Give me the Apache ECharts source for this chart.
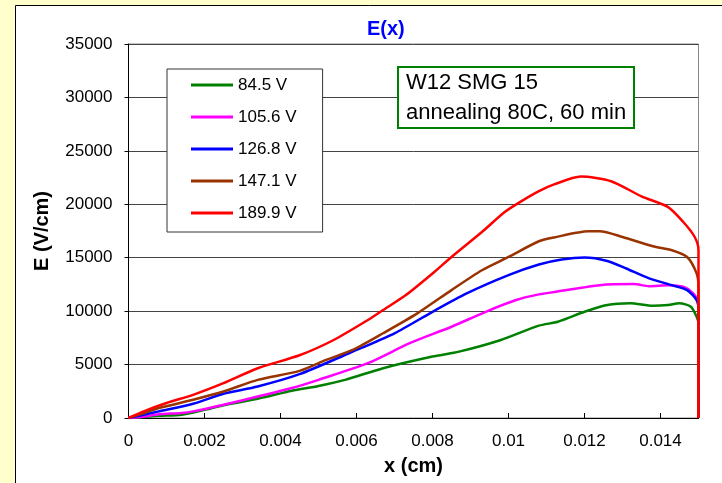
<!DOCTYPE html>
<html>
<head>
<meta charset="utf-8">
<script src="https://cdn.jsdelivr.net/npm/echarts@6/dist/echarts.min.js"></script>
<style>
  html, body { margin: 0; padding: 0; background: #FFFFCC; }
  #chart { width: 722px; height: 483px; }
</style>
</head>
<body>
<div id="chart"></div>
<script>
// E(x) profiles, x in cm, E in V/cm
var names = ['84.5 V', '105.6 V', '126.8 V', '147.1 V', '189.9 V'];
var colors = ['#008000', '#FF00FF', '#0000FF', '#993300', '#FF0000'];

var e845 = [[0,0],[0.0004,100],[0.0008,210],[0.0014,310],[0.0020,770],[0.0025,1190],[0.0034,1800],
    [0.0043,2550],[0.0050,3000],[0.0057,3570],[0.0067,4660],[0.0080,5750],[0.0087,6210],[0.0098,7300],
    [0.0108,8640],[0.0113,9010],[0.0120,9940],[0.0126,10570],[0.0132,10730],[0.0138,10500],[0.0142,10570],
    [0.0145,10730],[0.0148,10410],[0.01495,9480],[0.0150,8860],[0.0150,0]];
var e1056 = [[0,0],[0.0004,120],[0.0008,340],[0.0014,470],[0.0017,620],[0.0025,1240],[0.0034,2010],
    [0.0043,2800],[0.0050,3570],[0.0063,5130],[0.0074,7000],[0.0085,8540],[0.0094,9940],[0.0102,11040],
    [0.0108,11570],[0.0114,11900],[0.0124,12430],[0.0133,12530],[0.0137,12340],[0.0142,12430],
    [0.0146,12280],[0.01486,11660],[0.0150,10730],[0.0150,0]];
var e1268 = [[0,0],[0.0004,300],[0.0008,620],[0.0017,1330],[0.0025,2270],[0.0034,2950],[0.0045,4100],
    [0.0058,6060],[0.0070,7930],[0.0080,9940],[0.0089,11660],[0.0100,13370],[0.0108,14360],[0.0114,14830],
    [0.0120,15020],[0.0126,14700],[0.0131,13990],[0.0137,13060],[0.0143,12430],[0.0147,11970],
    [0.01495,11040],[0.0150,10100],[0.0150,0]];
var e1471 = [[0,0],[0.0004,450],[0.0008,930],[0.0017,1710],[0.0025,2480],[0.0034,3570],[0.0045,4410],
    [0.0052,5440],[0.0059,6370],[0.0067,7930],[0.0076,9790],[0.0085,11970],[0.0093,13830],[0.0100,15070],
    [0.0108,16540],[0.0112,16900],[0.0121,17470],[0.0124,17470],[0.0130,16940],[0.0138,16070],
    [0.0143,15700],[0.0147,15070],[0.01495,13530],[0.0150,12280],[0.0150,0]];
var e1899 = [[0,0],[0.0004,620],[0.0010,1400],[0.0017,2170],[0.0025,3260],[0.0034,4660],[0.0045,5870],
    [0.0054,7300],[0.0063,9170],[0.0067,10100],[0.0073,11500],[0.0080,13520],[0.0085,15070],[0.0093,17400],
    [0.0099,19270],[0.0103,20200],[0.0108,21230],[0.0112,21860],[0.0119,22600],[0.0127,22160],
    [0.0135,20740],[0.0142,19740],[0.0146,18340],[0.0149,16940],[0.0150,15700],[0.0150,0]];
var allData = [e845, e1056, e1268, e1471, e1899];

var font = 'Liberation Sans, Arial, sans-serif';
var myChart = echarts.init(document.getElementById('chart'));

var series = [];
for (var i = 0; i < names.length; i++) {
    series.push({
        name: names[i],
        type: 'line',
        data: allData[i],
        showSymbol: false,
        symbol: 'none',
        smooth: 0.25,
        lineStyle: { color: colors[i], width: 2.5 },
        itemStyle: { color: colors[i] },
        animation: false
    });
}

var option = {
    backgroundColor: '#FFFFCC',
    title: {
        text: 'E(x)',
        left: 362,
        top: 14,
        textStyle: { color: '#0000FF', fontFamily: font, fontSize: 20, fontWeight: 'bold' }
    },
    grid: {
        left: 128.5, right: 23.5, top: 44, bottom: 65,
        show: true, backgroundColor: '#fff', borderColor: '#888', borderWidth: 1
    },
    legend: {
        orient: 'vertical',
        left: 167, top: 69,
        padding: [7, 26, 10, 24],
        backgroundColor: '#fff',
        borderColor: '#333', borderWidth: 1,
        icon: 'rect',
        itemWidth: 42, itemHeight: 3,
        itemGap: 14,
        textStyle: { fontFamily: font, fontSize: 17, color: '#000', lineHeight: 18 },
        data: names
    },
    xAxis: {
        type: 'value',
        min: 0, max: 0.015, interval: 0.002,
        name: 'x (cm)',
        nameLocation: 'middle',
        nameGap: 38,
        nameTextStyle: { fontFamily: font, fontSize: 20, fontWeight: 'bold', color: '#000' },
        axisLine: { lineStyle: { color: '#000', width: 1 } },
        axisTick: { inside: true, length: 5, lineStyle: { color: '#000' } },
        axisLabel: {
            fontFamily: font, fontSize: 17, color: '#000', margin: 15, showMaxLabel: false,
            formatter: function (v) { return String(+v.toFixed(3)); }
        },
        splitLine: { show: false }
    },
    yAxis: {
        type: 'value',
        min: 0, max: 35000, interval: 5000,
        name: 'E (V/cm)',
        nameLocation: 'middle',
        nameGap: 76,
        nameRotate: 90,
        nameTextStyle: { fontFamily: font, fontSize: 20, fontWeight: 'bold', color: '#000' },
        axisLine: { show: true, lineStyle: { color: '#000', width: 1 } },
        axisTick: { show: true, length: 4, lineStyle: { color: '#000' } },
        axisLabel: {
            fontFamily: font, fontSize: 17, color: '#000', margin: 16,
            formatter: function (v) { return String(v); }
        },
        splitLine: { lineStyle: { color: '#444', width: 1 } }
    },
    graphic: [
        {
            type: 'rect', z: -10, silent: true,
            shape: { x: 15.5, y: 5.5, width: 800, height: 600 },
            style: { fill: '#fff', stroke: '#000', lineWidth: 1 }
        },
        {
            type: 'rect', z: 10,
            shape: { x: 398, y: 67, width: 236, height: 61 },
            style: { fill: '#fff', stroke: '#008000', lineWidth: 2 }
        },
        {
            type: 'text', z: 11, left: 406, top: 68,
            style: {
                text: 'W12 SMG 15\nannealing 80C, 60 min',
                font: '22px ' + font, fill: '#000', lineHeight: 30
            }
        }
    ],
    series: series
};
myChart.setOption(option);
</script>
</body>
</html>
